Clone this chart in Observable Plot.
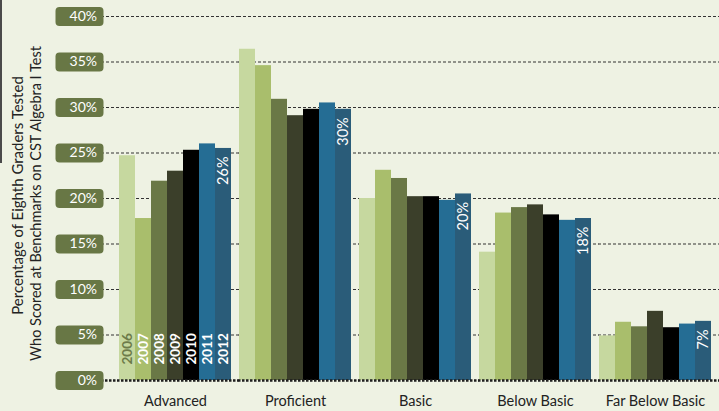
<!DOCTYPE html>
<html>
<head>
<meta charset="utf-8">
<script src="https://cdn.jsdelivr.net/npm/d3@7"></script>
<script src="https://cdn.jsdelivr.net/npm/@observablehq/plot@0.6"></script>
<style>
  html, body { margin: 0; padding: 0; background: #eef2e3; }
  #wrap { position: relative; width: 719px; height: 411px; overflow: hidden; }
  #edge { position: absolute; left: 0; top: 0; width: 2px; height: 163px; background: #4a4a4a; }
</style>
</head>
<body>
<div id="wrap"><div id="edge"></div></div>
<script>
const categories = ["Advanced", "Proficient", "Basic", "Below Basic", "Far Below Basic"];
const years = ["2006", "2007", "2008", "2009", "2010", "2011", "2012"];
const advanced = [24.7, 17.8, 21.9, 23.0, 25.3, 26.0, 25.5];
const proficient = [36.4, 34.6, 30.9, 29.1, 29.8, 30.5, 29.8];
const basic = [20.0, 23.1, 22.2, 20.2, 20.2, 19.8, 20.5];
const belowBasic = [14.1, 18.4, 19.0, 19.3, 18.2, 17.6, 17.8];
const farBelowBasic = [4.9, 6.4, 5.9, 7.6, 5.8, 6.2, 6.5];
const labels2012 = ["26%", "30%", "20%", "18%", "7%"];
const yTicks = [0, 5, 10, 15, 20, 25, 30, 35, 40];
const yearColors = ["#c6d89f", "#a9be6c", "#6a7846", "#3b3f2a", "#000000", "#256d94", "#2a5c79"];
const titleLines = ["Percentage of Eighth Graders Tested", "Who Scored at Benchmarks on CST Algebra I Test"];

const series = [advanced, proficient, basic, belowBasic, farBelowBasic];
const rows = [];
categories.forEach((c, i) => years.forEach((y, j) => rows.push({category: c, year: y, value: series[i][j]})));
const lastRows = categories.map((c, i) => ({category: c, year: "2012", value: series[i][6], label: labels2012[i]}));
const yearRows = years.map(y => ({category: categories[0], year: y}));
const first = categories[0];
const last = categories[categories.length - 1];
const gridRows = [];
categories.forEach(c => yTicks.forEach(t => gridRows.push({category: c, tick: t})));
const tickRows = yTicks.map(t => ({category: first, tick: t}));

const pill = {
  draw(ctx) {
    const w = 24, h = 9.6, r = 4;
    ctx.moveTo(-w + r, -h);
    ctx.lineTo(w - r, -h);
    ctx.arcTo(w, -h, w, -h + r, r);
    ctx.lineTo(w, h - r);
    ctx.arcTo(w, h, w - r, h, r);
    ctx.lineTo(-w + r, h);
    ctx.arcTo(-w, h, -w, h - r, r);
    ctx.lineTo(-w, -h + r);
    ctx.arcTo(-w, -h, -w + r, -h, r);
    ctx.closePath();
  }
};

function gridMarks(filterTick, style) {
  return [
    Plot.ruleY(gridRows.filter(d => filterTick(d.tick) && d.category === first), {fx: "category", y: "tick", insetLeft: -17, insetRight: -6.5, ...style}),
    Plot.ruleY(gridRows.filter(d => filterTick(d.tick) && d.category !== first && d.category !== last), {fx: "category", y: "tick", insetRight: -6.5, ...style}),
    Plot.ruleY(gridRows.filter(d => filterTick(d.tick) && d.category === last), {fx: "category", y: "tick", insetRight: -8, ...style})
  ];
}

const chart = Plot.plot({
  width: 719,
  height: 411,
  marginLeft: 100,
  marginRight: 0,
  marginTop: 16,
  marginBottom: 31,
  style: {background: "transparent", fontFamily: "Lato, 'Open Sans', sans-serif", color: "#222"},
  fx: {domain: categories, paddingInner: 0.052, paddingOuter: 0.1, align: 0.708, label: null, axis: null},
  x: {domain: years, padding: 0, axis: null},
  y: {domain: [0, 40], axis: null},
  color: {domain: years, range: yearColors},
  marks: [
    ...gridMarks(t => t > 0, {stroke: "#333", strokeWidth: 1.2, strokeDasharray: "3,2"}),
    Plot.barY(rows, {fx: "category", x: "year", y: "value", fill: "year"}),
    ...gridMarks(t => t === 0, {stroke: "#1e1e1e", strokeWidth: 2.5, strokeDasharray: "2.5,1.5"}),
    Plot.dot(tickRows, {fx: "category", y: "tick", frameAnchor: "left", dx: -39, symbol: pill, r: 10, fill: "#687745"}),
    Plot.text(tickRows, {fx: "category", y: "tick", text: d => d.tick + "%", frameAnchor: "left", dx: -21.5, textAnchor: "end", fill: "white", fontSize: 14}),
    Plot.text(yearRows.filter(d => d.year === "2006"), {fx: "category", x: "year", y: () => 0, text: "year", rotate: -90, textAnchor: "start", dy: -16, fill: "#6d7b4a", fontWeight: "bold", fontSize: 13.5}),
    Plot.text(yearRows.filter(d => d.year !== "2006"), {fx: "category", x: "year", y: () => 0, text: "year", rotate: -90, textAnchor: "start", dy: -16, fill: "white", fontWeight: "bold", fontSize: 13.5}),
    Plot.text(lastRows, {fx: "category", x: "year", y: "value", text: "label", rotate: -90, textAnchor: "end", dy: 8, fill: "white", fontSize: 14.5}),
    Plot.axisFx({anchor: "bottom", tickSize: 0, tickPadding: 15, fontSize: 14.5, label: null, fill: "#222"}),
    Plot.text([{category: first, text: titleLines[0]}], {fx: "category", text: "text", frameAnchor: "left", textAnchor: "middle", lineAnchor: "middle", dx: -100, dy: -3, rotate: -90, fontSize: 15, fill: "#222"}),
    Plot.text([{category: first, text: titleLines[1]}], {fx: "category", text: "text", frameAnchor: "left", textAnchor: "middle", lineAnchor: "middle", dx: -82, dy: 5, rotate: -90, fontSize: 14.5, fill: "#222"})
  ]
});
document.getElementById("wrap").appendChild(chart);
</script>
</body>
</html>
